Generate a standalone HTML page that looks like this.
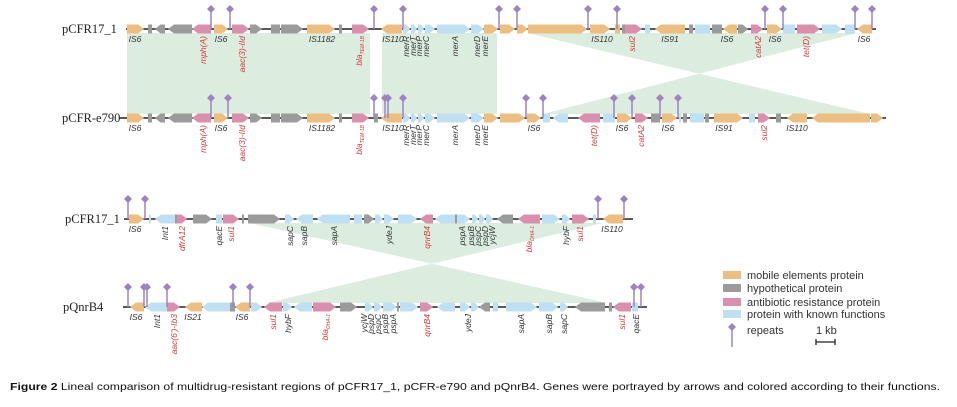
<!DOCTYPE html>
<html><head><meta charset="utf-8"><style>
html,body{margin:0;padding:0;background:#fff;}
svg{display:block;}
.lab{font-family:"Liberation Serif",serif;font-size:12.5px;fill:#222;}
.g{font-family:"Liberation Sans",sans-serif;font-size:8.5px;font-style:italic;fill:#333;}
.r{fill:#d23a3a;}
.leg{font-family:"Liberation Sans",sans-serif;font-size:11px;fill:#333;}
.cap{font-family:"Liberation Sans",sans-serif;font-size:10.5px;fill:#111;}
</style></head><body>
<svg id="s" width="957" height="407" viewBox="0 0 957 407" xmlns="http://www.w3.org/2000/svg">
<g fill="#dcede0">
<polygon points="127,33 370,33 370,114 127,114"/>
<polygon points="382,33 497,33 497,114 382,114"/>
<polygon points="527,33 857,33 543,114 870,114"/>
<polygon points="250,223 603,223 267,303 607,303"/>
</g>
<g stroke="#222" stroke-width="1.5">
<line x1="126" y1="29" x2="876" y2="29"/>
<line x1="119" y1="118" x2="886" y2="118"/>
<line x1="124" y1="219" x2="633" y2="219"/>
<line x1="123" y1="307" x2="647" y2="307"/>
</g>
<g id="genes"></g>
<g id="rep"></g>
<text class="lab" x="62" y="33">pCFR17_1</text>
<text class="lab" x="62" y="122">pCFR-e790</text>
<text class="lab" x="65" y="223">pCFR17_1</text>
<text class="lab" x="63" y="311">pQnrB4</text>
<g id="labels"></g>
<g class="leg">
<rect x="723" y="271" width="18" height="8" fill="#edbe82"/><text x="747" y="279">mobile elements protein</text>
<rect x="723" y="284" width="18" height="8" fill="#9b9b9b"/><text x="747" y="292">hypothetical protein</text>
<rect x="723" y="298" width="18" height="8" fill="#d98fad"/><text x="747" y="306">antibiotic resistance protein</text>
<rect x="723" y="310" width="18" height="8" fill="#bfe0f2"/><text x="747" y="318">protein with known functions</text>
<line x1="732" y1="328" x2="732" y2="347" stroke="#9b84c0" stroke-width="1.5"/>
<polygon points="732,323 736,327 732,331 728,327" fill="#9b84c0"/>
<text x="747" y="334">repeats</text>
<text x="816" y="334">1 kb</text>
<path d="M816,339 v6 M816,342 h19 M835,339 v6" stroke="#222" stroke-width="1.3" fill="none"/>
</g>
<text class="cap" x="10" y="390" textLength="930" lengthAdjust="spacingAndGlyphs"><tspan font-weight="bold">Figure 2</tspan> Lineal comparison of multidrug-resistant regions of pCFR17_1, pCFR-e790 and pQnrB4. Genes were portrayed by arrows and colored according to their functions.</text>
</svg>
<script>
(function(){
var C={o:"#edbe82",g:"#9b9b9b",p:"#d98fad",b:"#bfe0f2"};
var NS="http://www.w3.org/2000/svg";
function el(t,a,p,txt){var e=document.createElementNS(NS,t);for(var k in a)e.setAttribute(k,a[k]);if(txt)e.textContent=txt;document.getElementById(p).appendChild(e);return e;}
function gene(y,x1,x2,d,c){var h=4.5,w=x2-x1,hl=Math.min(6,w*0.55),pts;
if(d>0)pts=[[x1,y-h],[x2-hl,y-h],[x2,y],[x2-hl,y+h],[x1,y+h]];
else if(d<0)pts=[[x2,y-h],[x1+hl,y-h],[x1,y],[x1+hl,y+h],[x2,y+h]];
else pts=[[x1,y-h],[x2,y-h],[x2,y+h],[x1,y+h]];
el("polygon",{points:pts.map(function(p){return p.join(",")}).join(" "),fill:C[c]},"genes");}
function row(y,L){L.forEach(function(g){gene(y,g[0],g[1],g[2],g[3]);});}
function reps(y,xs){xs.forEach(function(x){el("line",{x1:x,y1:y-19,x2:x,y2:y,stroke:"#9b84c0","stroke-width":1.5},"rep");
el("polygon",{points:x+","+(y-24)+" "+(x+4)+","+(y-20)+" "+x+","+(y-16)+" "+(x-4)+","+(y-20),fill:"#9b84c0"},"rep");});}
var t1=[[127,144,1,"o"],[148,152,0,"g"],[155,165,-1,"g"],[168,192,-1,"g"],[192,211,-1,"p"],[214,228,1,"o"],[232,249,1,"p"],[250,262,1,"g"],[271,280,0,"g"],[281,303,1,"g"],[307,335,1,"o"],[339,342,0,"g"],[352,369,1,"p"],[381,402,-1,"o"],[403,410,1,"b"],[411,417,1,"b"],[418,424,1,"b"],[425,435,1,"b"],[437,470,1,"b"],[471,484,1,"b"],[484,498,1,"o"],[500,515,1,"o"],[517,528,1,"o"],[528,587,1,"o"],[590,610,1,"o"],[615,620,0,"o"],[622,625,0,"g"],[625,642,1,"p"],[645,650,0,"b"],[655,685,-1,"o"],[689,693,0,"g"],[695,710,0,"b"],[712,722,0,"g"],[723,737,-1,"o"],[738,748,1,"g"],[751,763,1,"p"],[767,782,1,"o"],[783,795,0,"b"],[797,820,1,"p"],[822,842,1,"b"],[845,855,0,"b"],[857,872,-1,"o"]];
row(29,t1);
var r2=t1.slice(0,14).concat([[374,378,0,"g"],[403,410,1,"b"],[411,417,1,"b"],[418,424,1,"b"],[425,435,1,"b"],[437,470,1,"b"],[471,484,1,"b"],[484,498,1,"o"],[500,525,1,"o"],[527,541,1,"o"],[543,550,0,"b"],[553,568,-1,"b"],[578,600,-1,"p"],[603,615,0,"b"],[617,632,1,"o"],[635,648,1,"p"],[651,660,0,"g"],[662,677,1,"o"],[679,681,0,"b"],[683,687,0,"g"],[690,704,0,"b"],[705,709,0,"g"],[714,743,1,"o"],[749,755,0,"b"],[758,770,1,"p"],[776,781,0,"g"],[787,807,-1,"o"],[812,870,-1,"o"],[871,883,1,"o"]]);
row(118,r2);
row(219,[[129,144,1,"o"],[149,151,0,"b"],[155,175,-1,"b"],[175,177,0,"g"],[177,187,1,"p"],[193,196,0,"g"],[196,212,1,"g"],[216,222,0,"b"],[223,239,1,"p"],[242,244,0,"g"],[248,280,1,"g"],[285,294,1,"b"],[296,313,-1,"b"],[317,350,-1,"b"],[354,362,0,"b"],[364,374,1,"g"],[375,383,1,"b"],[384,394,1,"b"],[398,417,1,"b"],[420,433,-1,"p"],[435,455,-1,"b"],[455,457,0,"g"],[457,470,1,"b"],[472,478,1,"b"],[479,485,1,"b"],[486,493,1,"b"],[497,513,-1,"g"],[518,540,-1,"p"],[542,560,1,"b"],[562,570,1,"b"],[572,589,1,"p"],[593,596,0,"b"],[603,623,-1,"o"]]);
row(307,[[130,144,-1,"o"],[145,167,-1,"b"],[167,180,1,"p"],[185,202,-1,"o"],[202,230,-1,"b"],[230,235,0,"g"],[235,250,-1,"o"],[251,262,1,"b"],[264,282,-1,"p"],[283,292,1,"b"],[294,312,-1,"b"],[313,336,1,"p"],[340,357,1,"g"],[365,373,1,"b"],[374,382,1,"b"],[383,397,1,"b"],[397,399,0,"g"],[400,418,1,"b"],[420,433,1,"p"],[437,455,-1,"b"],[460,470,1,"b"],[471,479,1,"b"],[479,490,-1,"g"],[493,498,0,"b"],[506,537,1,"b"],[539,558,1,"b"],[560,568,1,"b"],[575,605,-1,"g"],[609,612,0,"g"],[613,631,-1,"p"],[632,638,0,"b"]]);
reps(29,[211,230,374,403,499,517,588,617,765,783,855,872]);
reps(118,[211,228,374,385,388,403,526,543,614,632,660,678]);
reps(219,[128,145,598,624]);
reps(307,[128,144,147,167,233,250,634,641]);
function H(x,y,t,red){el("text",{x:x,y:y,"text-anchor":"middle","class":"g"+(red?" r":"")},"labels",t);}
function V(x,y,t,red,sub){var e=el("text",{x:x,y:y,"text-anchor":"end","class":"g"+(red?" r":""),transform:"rotate(-90 "+x+" "+y+")",dy:"3"},"labels",t);
if(sub){var s=document.createElementNS(NS,"tspan");s.setAttribute("font-size","5");s.setAttribute("dy","2");s.textContent=sub;e.appendChild(s);}}
function rowlabels(y,hs,vs){hs.forEach(function(h){H(h[0],y+13,h[1],h[2]);});vs.forEach(function(v){V(v[0],y+7,v[1],v[2],v[3]);});}
rowlabels(29,[[135,"IS6"],[221,"IS6"],[322,"IS1182"],[393,"IS110"],[602,"IS110"],[670,"IS91"],[727,"IS6"],[775,"IS6"],[864,"IS6"]],
[[203,"mph(A)",1],[242,"aac(3)-IId",1],[359,"bla",1,"TEM-1B"],[406,"merR"],[413,"merT"],[419,"merP"],[426,"merC"],[455,"merA"],[477,"merD"],[485,"merE"],[632,"sul2",1],[758,"catA2",1],[806,"tet(D)",1]]);
rowlabels(118,[[135,"IS6"],[221,"IS6"],[322,"IS1182"],[393,"IS110"],[534,"IS6"],[622,"IS6"],[668,"IS6"],[724,"IS91"],[797,"IS110"]],
[[203,"mph(A)",1],[242,"aac(3)-IId",1],[359,"bla",1,"TEM-1B"],[406,"merR"],[413,"merT"],[419,"merP"],[426,"merC"],[455,"merA"],[477,"merD"],[485,"merE"],[594,"tet(D)",1],[641,"catA2",1],[764,"sul2",1]]);
rowlabels(219,[[135,"IS6"],[612,"IS110"]],
[[165,"Int1"],[182,"dfrA12",1],[219,"qacE"],[231,"sul1",1],[290,"sapC"],[304,"sapB"],[334,"sapA"],[389,"ydeJ"],[427,"qnrB4",1],[462,"pspA"],[471,"pspB"],[478,"pspC"],[485,"pspD"],[492,"ycjW"],[529,"bla",1,"DHA-1"],[566,"hybF"],[580,"sul1",1]]);
rowlabels(307,[[136,"IS6"],[193,"IS21"],[242,"IS6"]],
[[157,"Int1"],[174,"aac(6')-Ib3",1],[273,"sul1",1],[288,"hybF"],[325,"bla",1,"DHA-1"],[364,"ycjW"],[371,"pspD"],[378,"pspC"],[385,"pspB"],[393,"pspA"],[427,"qnrB4",1],[468,"ydeJ"],[521,"sapA"],[549,"sapB"],[564,"sapC"],[622,"sul1",1],[636,"qacE"]]);
})();
</script>
</body></html>
